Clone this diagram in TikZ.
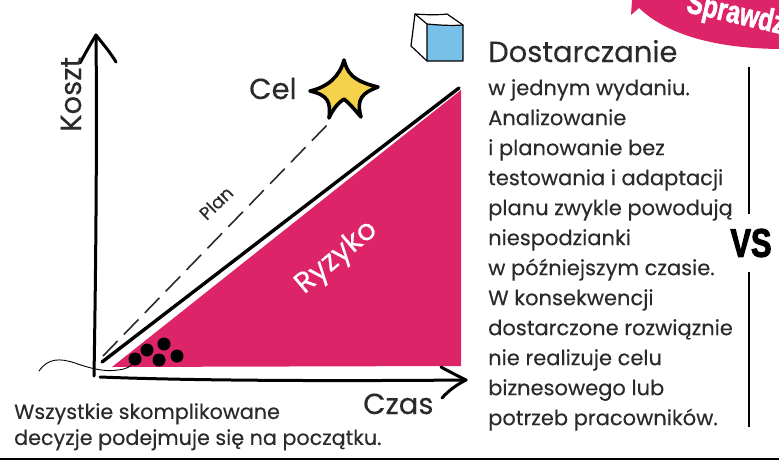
\documentclass[tikz,border=0pt]{standalone}
\usepackage{fontspec}
\setmainfont[FakeBold=0.25]{Poppins}
\newfontfamily\heavy[FakeStretch=0.76,FakeBold=1.5]{Liberation Sans Bold}
\newfontfamily\heavyvs[FakeStretch=0.77,FakeBold=2.5]{Liberation Sans Bold}
\definecolor{pink}{HTML}{DE2469}
\definecolor{ink}{HTML}{2B2A29}
\definecolor{starY}{HTML}{F4D34B}
\definecolor{cubeB}{HTML}{79C0E8}
\tikzset{
 axisline/.style={line width=3pt,line cap=round,line join=round,black},
 thin sketch/.style={line width=1.2pt,line cap=round,line join=round,black},
 lbl/.style={inner sep=0pt,text=ink,anchor=base west},
 dot/.style={circle,fill=black,minimum size=13pt,inner sep=0pt},
}
\begin{document}
\begin{tikzpicture}[x=1pt,y=-1pt]
\useasboundingbox (0,0) rectangle (779,461);
\begin{scope}
\clip (0,0) rectangle (779,461);
% banner
\fill[pink] (631,15) -- (639,8) .. controls (660,28) and (700,48) .. (779,49) -- (779,0) -- (632,0) -- cycle;
\node[rotate=-13,text=white,inner sep=0pt,font=\heavy\fontsize{32}{32}\selectfont] (banner) at (736,15) {Sprawdź};
% risk triangle
\fill[pink] (112,367) -- (461,90) -- (461,366) -- cycle;
% bottom rule
\coordinate (ruleL) at (0,459); \coordinate (ruleR) at (779,459);
\draw[line width=2.5pt,black] (ruleL) -- (ruleR);
% axes
\coordinate (o) at (94,376);
\coordinate (ytop) at (96,35);
\coordinate (xs) at (100,377);
\coordinate (xe) at (466,380);
\draw[axisline] (o) .. controls (96,260) and (97,130) .. (ytop);
\draw[axisline] (80,63) .. controls (86,52) and (91,43) .. (ytop) .. controls (103,44) and (110,52) .. (116,62);
\draw[axisline] (xs) .. controls (200,381) and (350,381) .. (xe);
\draw[axisline] (441,367) .. controls (450,372) and (458,376) .. (xe) .. controls (458,384) and (449,390) .. (442,398);
% cost line
\coordinate (ls) at (102,362);
\coordinate (le) at (459,88);
\draw[line width=3.4pt,line cap=round,black] (ls) -- (le);
% plan
\coordinate (ps) at (103,356);
\coordinate (pe) at (330,122);
\draw[line width=1.6pt,ink,dash pattern=on 21pt off 9pt] (ps) -- (pe);
% wiggle
\draw[thin sketch,line width=0.9pt] (39,371) .. controls (48,358) and (60,358) .. (75,363) .. controls (92,369) and (105,372) .. (118,370) .. controls (126,369) and (131,367) .. (134,362);
% dots
\node[dot] (d1) at (135,359) {};
\node[dot] (d2) at (147,350) {};
\node[dot] (d3) at (164,344) {};
\node[dot] (d4) at (159,360) {};
\node[dot] (d5) at (177,356) {};
% star
\draw[line width=3.6pt,line join=round,line cap=round,black,fill=starY]
 (344,60) .. controls (347,72) and (352,81) .. (378,87)
 .. controls (362,93) and (356,99) .. (361,117)
 .. controls (355,110) and (350,104) .. (344,99)
 .. controls (338,103) and (333,109) .. (329,118)
 .. controls (331,102) and (328,95) .. (310,91)
 .. controls (328,87) and (340,76) .. cycle;
% cube
\fill[cubeB] (427,25) -- (463,25) -- (463,61) -- (427,61) -- cycle;
\draw[thin sketch] (427,24) -- (427,61) -- (463,61) -- (463,25) .. controls (450,26) and (438,25) .. (427,24);
\draw[thin sketch] (427,24) -- (415,14) .. controls (428,15) and (440,15) .. (447,14) -- (463,25);
\draw[thin sketch] (415,14) -- (411,46) -- (427,61);
% vertical rule
\coordinate (v1) at (749,67); \coordinate (v2) at (749,214);
\coordinate (v3) at (749,272); \coordinate (v4) at (749,427);
\draw[line width=2.2pt,black] (v1) -- (v2) (v3) -- (v4);
\node[inner sep=0pt,font=\heavyvs\fontsize{40}{40}\selectfont,text=black] (vs) at (751,243) {VS};
% labels
\node[lbl,font=\fontsize{29}{29}\selectfont,rotate=90] (koszt) at (81,132) {Koszt};
\node[lbl,font=\fontsize{29}{29}\selectfont] (cel) at (249,99) {Cel};
\node[lbl,font=\fontsize{29}{29}\selectfont] (czas) at (363,414) {Czas};
\node[inner sep=0pt,text=ink,font=\fontsize{18}{18}\selectfont,rotate=44] (plan) at (216,203) {Plan};
\node[inner sep=0pt,text=white,font=\fontsize{29}{29}\selectfont,rotate=40] (ryzyko) at (337,258) {Ryzyko};
\node[lbl,font=\fontsize{20.7}{26}\selectfont,align=left,anchor=north west] (note) at (14,403) {Wszystkie skomplikowane\\decyzje podejmuje się na początku.};
\node[lbl,font=\fontsize{29}{29}\selectfont] (head) at (488,62) {Dostarczanie};
\node[lbl,font=\fontsize{21}{30}\selectfont,align=left,anchor=north west] (body) at (488,79) {w jednym wydaniu.\\Analizowanie\\i planowanie bez\\testowania i adaptacji\\planu zwykle powodują\\niespodzianki\\w późniejszym czasie.\\W konsekwencji\\dostarczone rozwiąznie\\nie realizuje celu\\biznesowego lub\\potrzeb pracowników.};
\end{scope}
\end{tikzpicture}
\end{document}
